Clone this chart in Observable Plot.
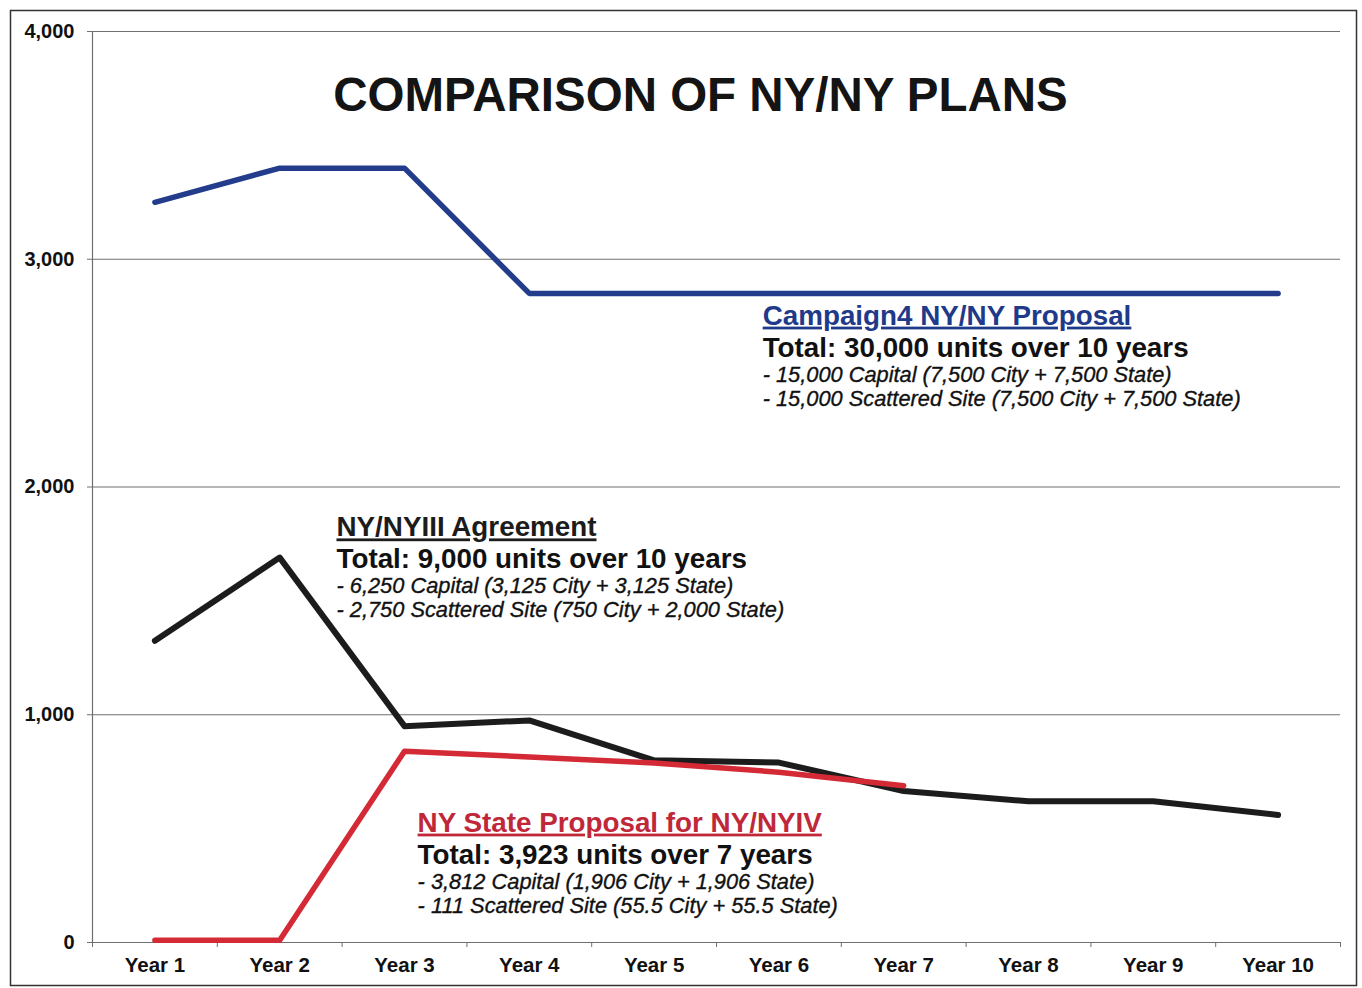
<!DOCTYPE html>
<html>
<head>
<meta charset="utf-8">
<script src="https://cdn.jsdelivr.net/npm/d3@7"></script>
<script src="https://cdn.jsdelivr.net/npm/@observablehq/plot@0.6"></script>
<style>
  body { margin: 0; background: #fff; }
  #chart { position: relative; width: 1362px; height: 988px; }
</style>
</head>
<body>
<div id="chart"></div>
<script>
// ---- data ----
const years = [1, 2, 3, 4, 5, 6, 7, 8, 9, 10];
const yearLabels = ["Year 1", "Year 2", "Year 3", "Year 4", "Year 5", "Year 6", "Year 7", "Year 8", "Year 9", "Year 10"];
const yTicks = [0, 1000, 2000, 3000, 4000];
const campaign4 = [3250, 3400, 3400, 2850, 2850, 2850, 2850, 2850, 2850, 2850];
const nyny3 = [1325, 1690, 950, 975, 800, 790, 665, 620, 620, 560];
const nysProposal = [10, 10, 840, 815, 788, 748, 688];
const title = "COMPARISON OF NY/NY PLANS";
const campaignNote = ["Campaign4 NY/NY Proposal", "Total: 30,000 units over 10 years",
  "- 15,000 Capital (7,500 City + 7,500 State)", "- 15,000 Scattered Site (7,500 City + 7,500 State)"];
const nyny3Note = ["NY/NYIII Agreement", "Total: 9,000 units over 10 years",
  "- 6,250 Capital (3,125 City + 3,125 State)", "- 2,750 Scattered Site (750 City + 2,000 State)"];
const nysNote = ["NY State Proposal for NY/NYIV", "Total: 3,923 units over 7 years",
  "- 3,812 Capital (1,906 City + 1,906 State)", "- 111 Scattered Site (55.5 City + 55.5 State)"];

// ---- layout / style ----
const FONT = "'Liberation Sans', Arial, Helvetica, sans-serif";
const BLUE = "#233d8c", BLACK = "#1c1c1c", RED = "#d42a36";
const HEAD_BLUE = "#1f3a8a", HEAD_RED = "#c0283a";
const lineOffsets = [0, 32, 57, 81];
const notes = [
  {lines: campaignNote, x: 5.87, y: 2713, color: HEAD_BLUE},
  {lines: nyny3Note, x: 2.455, y: 1783, color: BLACK},
  {lines: nysNote, x: 3.105, y: 487, color: HEAD_RED}
];

const series = (vals) => vals.map((v, i) => ({year: years[i], value: v}));
const boundaries = [0.5, ...years.map(y => y + 0.5)];

const noteMarks = [];
for (const n of notes) {
  n.lines.forEach((t, i) => {
    const heading = i === 0, total = i === 1;
    noteMarks.push(Plot.text([{x: n.x, y: n.y, t}], {
      x: "x", y: "y", text: "t", dy: lineOffsets[i],
      textAnchor: "start", lineAnchor: "bottom",
      fontSize: heading || total ? 27.8 : 21.8,
      fontWeight: heading || total ? "bold" : "normal",
      fontStyle: heading || total ? "normal" : "italic",
      fill: heading ? n.color : "#111",
      stroke: heading || total ? null : "#111",
      strokeWidth: heading || total ? null : 0.35
    }));
  });
}

const chart = Plot.plot({
  width: 1362,
  height: 988,
  marginTop: 31,
  marginRight: 22,
  marginBottom: 46,
  marginLeft: 92,
  style: {fontFamily: FONT, background: "#fff", color: "#111"},
  x: {type: "linear", domain: [0.5, 10.5]},
  y: {domain: [0, 4000]},
  marks: [
    Plot.ruleY(yTicks, {stroke: "#6f6f6f", strokeWidth: 1.2}),
    Plot.ruleX([0.5], {stroke: "#6f6f6f", strokeWidth: 1.2}),
    Plot.axisY({ticks: yTicks, tickSize: 5, tickPadding: 13, tickFormat: d3.format(","),
      fontSize: 20, fontWeight: "bold", stroke: "#6f6f6f", fill: "#111", label: null}),
    Plot.axisX({ticks: boundaries, tickSize: 5, tickFormat: () => "", stroke: "#6f6f6f", label: null}),
    Plot.axisX({ticks: years, tickSize: 0, tickPadding: 15, tickFormat: d => yearLabels[d - 1],
      fontSize: 20.5, fontWeight: "bold", fill: "#111", label: null}),
    Plot.text([title], {frameAnchor: "top", dx: -16, dy: 46, lineAnchor: "top",
      fontSize: 47.5, fontWeight: "bold", fill: "#141414"}),
    Plot.line(series(campaign4), {x: "year", y: "value", stroke: BLUE, strokeWidth: 5.5,
      strokeLinejoin: "round", strokeLinecap: "round"}),
    Plot.line(series(nyny3), {x: "year", y: "value", stroke: BLACK, strokeWidth: 6,
      strokeLinejoin: "round", strokeLinecap: "round"}),
    Plot.line(series(nysProposal), {x: "year", y: "value", stroke: RED, strokeWidth: 5.5,
      strokeLinejoin: "round", strokeLinecap: "round"}),
    ...noteMarks
  ]
});

// underline the three series headings
const headings = [campaignNote[0], nyny3Note[0], nysNote[0]];
d3.select(chart).selectAll("text")
  .filter(function () { return headings.includes(this.textContent); })
  .style("text-decoration", "underline");

// outer page frame
d3.select(chart).append("rect")
  .attr("x", 10.5).attr("y", 10.5).attr("width", 1346).attr("height", 975)
  .attr("fill", "none").attr("stroke", "#333").attr("stroke-width", 1.5);

document.getElementById("chart").appendChild(chart);
</script>
</body>
</html>
